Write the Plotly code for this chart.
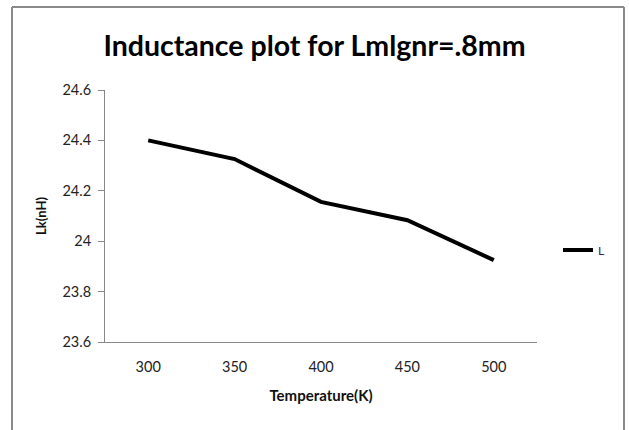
import plotly.graph_objects as go

temperatures = ["300", "350", "400", "450", "500"]
inductance = [24.40, 24.326, 24.156, 24.083, 23.925]
series_name = "L"
y_ticks = [23.6, 23.8, 24.0, 24.2, 24.4, 24.6]
y_tick_labels = ["23.6", "23.8", "24", "24.2", "24.4", "24.6"]

W, H = 629, 430
L, R, T, B = 105, 92, 90, 88
pw, ph = W - L - R, H - T - B

def px_x(x):
    return (x - L) / pw

def px_y(y):
    return (H - B - y) / ph

fig = go.Figure()
fig.add_trace(go.Scatter(
    x=temperatures, y=inductance, mode="lines", name=series_name,
    line=dict(color="#000000", width=4),
))

font_family = "Lato, 'Open Sans', sans-serif"
fig.update_layout(
    width=W, height=H,
    margin=dict(l=L, r=R, t=T, b=B, pad=0),
    paper_bgcolor="white", plot_bgcolor="white",
    font=dict(family=font_family, color="#222222", size=12),
    title=dict(text="<b>Inductance plot for Lmlgnr=.8mm</b>",
               x=0.5, xanchor="center", y=1 - 46 / H, yanchor="middle",
               font=dict(size=28.5, color="#000000", family=font_family)),
    xaxis=dict(type="category", showgrid=False, showline=True,
               linecolor="#888888", linewidth=1, ticks="",
               tickfont=dict(size=14.5, color="#222222"),
               ticklabelstandoff=12,
               title=dict(text="<b>Temperature(K)</b>", font=dict(size=15, color="#111111"),
                          standoff=16),
               range=[-0.5, 4.5], zeroline=False),
    yaxis=dict(range=[23.6, 24.6], tickvals=y_ticks, ticktext=y_tick_labels,
               showgrid=False, showline=True, linecolor="#888888", linewidth=1,
               ticks="outside", ticklen=6, tickcolor="#888888",
               tickfont=dict(size=14.5, color="#222222"),
               ticklabelstandoff=4,
               title=dict(text="<b>Lk(nH)</b>", font=dict(size=13, color="#111111"),
                          standoff=12),
               zeroline=False),
    showlegend=True,
    legend=dict(x=px_x(558), y=px_y(250), xanchor="left", yanchor="middle",
                font=dict(size=12, color="#3a1a6a"), bgcolor="rgba(0,0,0,0)",
                itemwidth=30, tracegroupgap=0),
)

border = dict(color="#8a8a8a", width=2)
fig.add_shape(type="line", xref="paper", yref="paper",
              x0=px_x(12), x1=px_x(624), y0=px_y(7), y1=px_y(7), line=border)
fig.add_shape(type="line", xref="paper", yref="paper",
              x0=px_x(12), x1=px_x(12), y0=px_y(7), y1=px_y(440), line=border)
fig.add_shape(type="line", xref="paper", yref="paper",
              x0=px_x(624), x1=px_x(624), y0=px_y(7), y1=px_y(440), line=border)

fig.write_html("out.html")
